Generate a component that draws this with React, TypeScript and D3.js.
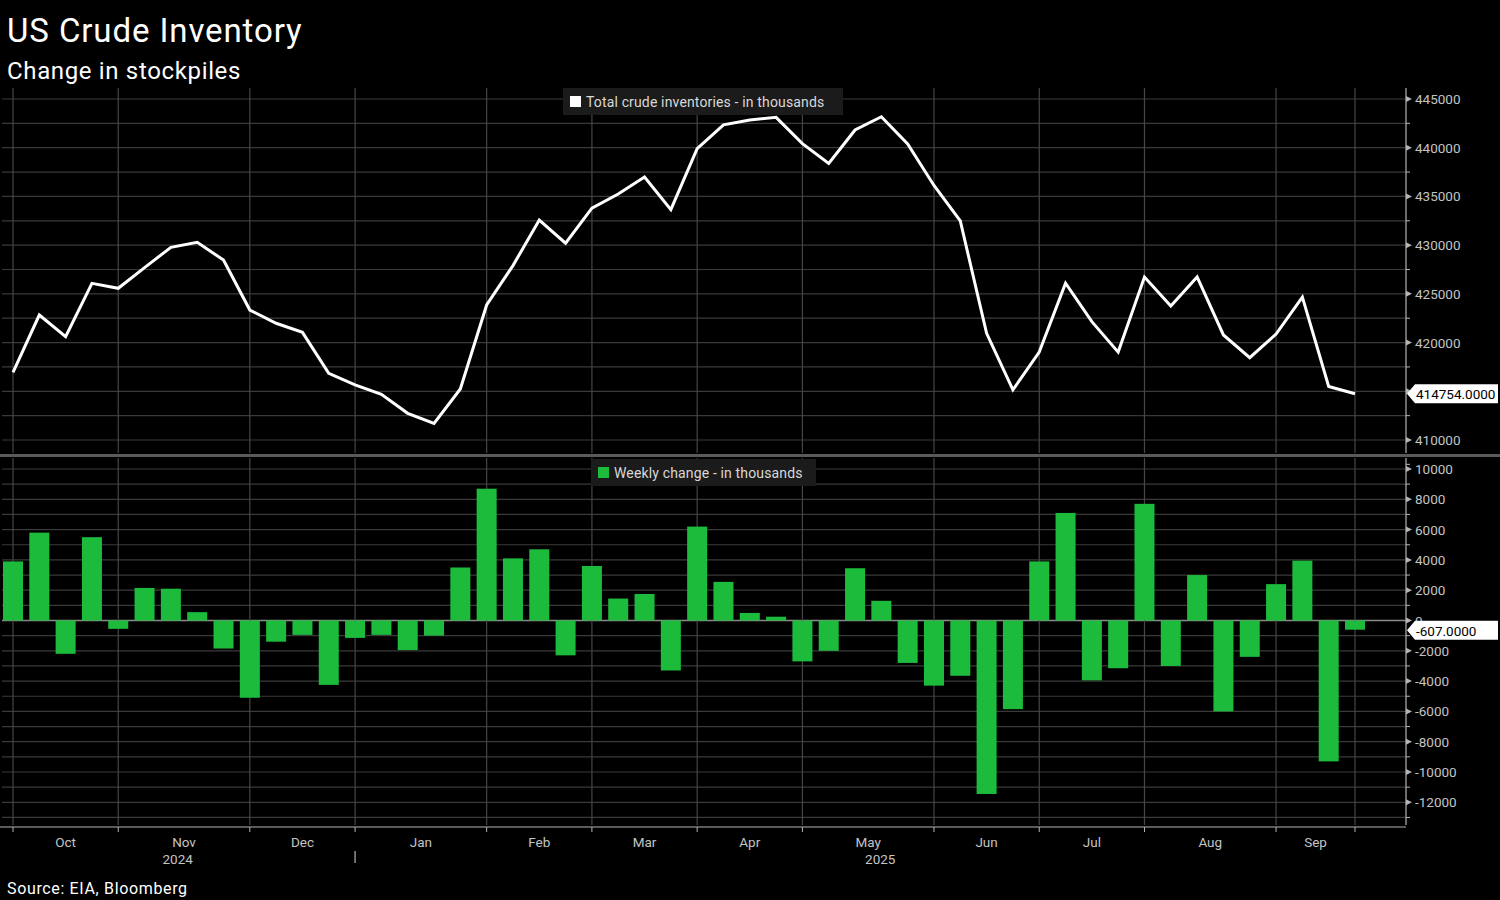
import React, { useEffect, useRef } from 'react';
import * as d3 from 'd3';

// Weekly EIA data, week ending Sep 27 2024 .. Sep 19 2025 (thousands of barrels)
const inventory = [
  416950, 422830, 420600, 426080, 425570, 427690, 429780, 430290, 428470, 423340,
  421980, 421050, 416850, 415650, 414690, 412740, 411710, 415240, 423860, 427900,
  432580, 430200, 433800, 435250, 437000, 433650, 439900, 442350, 442850, 443120,
  440420, 438380, 441820, 443180, 440380, 436120, 432480, 420950, 415150, 419030,
  426100, 422150, 419020, 426730, 423750, 426730, 420780, 418450, 420880, 424660,
  415500, 414754
];

const weeklyChange = [
  3900, 5800, -2200, 5500, -550, 2150, 2100, 550, -1850, -5100,
  -1400, -950, -4250, -1150, -950, -1950, -1000, 3500, 8700, 4100,
  4700, -2300, 3600, 1450, 1750, -3300, 6200, 2550, 500, 250,
  -2700, -2000, 3450, 1300, -2800, -4300, -3650, -11450, -5850, 3900,
  7100, -3950, -3150, 7700, -3000, 3000, -6000, -2400, 2400, 3950,
  -9300, -607
];

// first week index of each month (gridline positions) and labels
const monthStarts = [0, 4, 9, 13, 18, 22, 26, 30, 35, 39, 43, 48, 51];
const monthLabels = ['Oct', 'Nov', 'Dec', 'Jan', 'Feb', 'Mar', 'Apr', 'May', 'Jun', 'Jul', 'Aug', 'Sep'];
const yearLabels = ['2024', '2025'];
const yearWeekPos = [6.26, 32.96];
const topTicks = [410000, 415000, 420000, 425000, 430000, 435000, 440000, 445000];
const bottomTicks = [-12000, -10000, -8000, -6000, -4000, -2000, 0, 2000, 4000, 6000, 8000, 10000];

const W = 1500;
const H = 900;
const FONT = 'Roboto, "Liberation Sans", sans-serif';
const GREEN = '#1cbb3c';
const GRID = '#3a3a3a';
const AXIS = '#b4b4b4';
const LABEL = '#c4c4c4';

const App: React.FC = () => {
  const svgRef = useRef<SVGSVGElement>(null);

  useEffect(() => {
    if (!svgRef.current) return;
    const svg = d3.select(svgRef.current);
    svg.selectAll('*').remove();

    const axisX = 1406;
    const topY0 = 88, topY1 = 453;
    const botY0 = 458, botY1 = 825;

    const x = d3.scaleLinear().domain([0, inventory.length - 1]).range([13, 1355]);
    const yTop = d3.scaleLinear().domain([410000, 445000]).range([440, 99]);
    const yBot = d3.scaleLinear().domain([-12000, 10000]).range([802.3, 469]);

    const lastInv = inventory[inventory.length - 1];
    const lastChg = weeklyChange[weeklyChange.length - 1];

    svg.append('rect').attr('width', W).attr('height', H).attr('fill', '#000');

    // Titles
    svg.append('text').attr('x', 7).attr('y', 42)
      .style('font-family', FONT).style('font-size', '33px').style('fill', '#fff')
      .style('letter-spacing', '0.9px')
      .text('US Crude Inventory');
    svg.append('text').attr('x', 7).attr('y', 79)
      .style('font-family', FONT).style('font-size', '24px').style('fill', '#fff')
      .style('letter-spacing', '0.65px')
      .text('Change in stockpiles');
    svg.append('text').attr('x', 7).attr('y', 894)
      .style('font-family', FONT).style('font-size', '16px').style('fill', '#fff')
      .style('letter-spacing', '0.65px')
      .text('Source: EIA, Bloomberg');

    // Horizontal gridlines - top
    d3.range(410000, 445001, 2500).forEach(v => {
      svg.append('line')
        .attr('x1', 2).attr('x2', axisX)
        .attr('y1', yTop(v)).attr('y2', yTop(v))
        .attr('stroke', GRID).attr('stroke-width', 1.2);
    });
    // Horizontal gridlines - bottom
    d3.range(-13000, 10001, 1000).forEach(v => {
      svg.append('line')
        .attr('x1', 2).attr('x2', axisX)
        .attr('y1', yBot(v)).attr('y2', yBot(v))
        .attr('stroke', v === 0 ? '#8a8a8a' : GRID).attr('stroke-width', v === 0 ? 1.5 : 1.2);
    });

    // Vertical gridlines
    monthStarts.forEach(i => {
      [[topY0, topY1], [botY0, botY1]].forEach(([a, b]) => {
        svg.append('line')
          .attr('x1', x(i)).attr('x2', x(i))
          .attr('y1', a).attr('y2', b)
          .attr('stroke', '#464646').attr('stroke-width', 1.2);
      });
    });

    // Bars
    const bw = 20;
    svg.append('g').selectAll('rect')
      .data(weeklyChange)
      .join('rect')
      .attr('x', (_, i) => x(i) - bw / 2)
      .attr('width', bw)
      .attr('y', d => yBot(Math.max(0, d)))
      .attr('height', d => Math.abs(yBot(d) - yBot(0)))
      .attr('fill', GREEN);

    // Line
    const line = d3.line<number>()
      .x((_, i) => x(i))
      .y(d => yTop(d));
    svg.append('path')
      .datum(inventory)
      .attr('d', line)
      .attr('fill', 'none')
      .attr('stroke', '#fff')
      .attr('stroke-width', 3)
      .attr('stroke-linejoin', 'miter');

    // Separator between panels
    svg.append('rect').attr('x', 0).attr('y', 454).attr('width', W).attr('height', 3)
      .attr('fill', '#5a5a5a');

    // Right axis
    [[topY0, topY1], [botY0, botY1]].forEach(([a, b]) => {
      svg.append('line').attr('x1', axisX).attr('x2', axisX).attr('y1', a).attr('y2', b)
        .attr('stroke', AXIS).attr('stroke-width', 1.2);
    });

    const drawTicks = (scale: d3.ScaleLinear<number, number>, majors: number[], minorStep: number, lo: number, hi: number, hidden: (v: number) => boolean) => {
      d3.range(lo, hi + 1, minorStep).forEach(v => {
        if (majors.includes(v)) return;
        svg.append('line').attr('x1', axisX).attr('x2', axisX + 4)
          .attr('y1', scale(v)).attr('y2', scale(v))
          .attr('stroke', AXIS).attr('stroke-width', 1);
      });
      majors.forEach(v => {
        const yy = scale(v);
        svg.append('path')
          .attr('d', `M${axisX},${yy - 3}L${axisX + 6},${yy}L${axisX},${yy + 3}Z`)
          .attr('fill', AXIS);
        if (hidden(v)) return;
        svg.append('text').attr('x', axisX + 9).attr('y', yy)
          .attr('dominant-baseline', 'central')
          .style('font-family', FONT).style('font-size', '13.5px').style('fill', LABEL)
          .text(String(v));
      });
    };
    // labels hidden behind the last-value tags
    drawTicks(yTop, topTicks, 2500, 407500, 445000, v => Math.abs(yTop(v) - yTop(lastInv)) < 14);
    drawTicks(yBot, bottomTicks, 1000, -13000, 10000, () => false);

    // Last value tags
    const tag = (yy: number, label: string) => {
      svg.append('path')
        .attr('d', `M${axisX + 1},${yy}L${axisX + 9},${yy - 9.5}L${W - 2},${yy - 9.5}L${W - 2},${yy + 9.5}L${axisX + 9},${yy + 9.5}Z`)
        .attr('fill', '#fff');
      svg.append('text').attr('x', axisX + 10).attr('y', yy + 0.5)
        .attr('dominant-baseline', 'central')
        .style('font-family', FONT).style('font-size', '13.5px').style('fill', '#000')
        .text(label);
    };
    tag(yTop(lastInv), '414754.0000');
    tag(yBot(lastChg) + 0.5, '-607.0000');

    // Bottom x axis
    svg.append('line').attr('x1', 0).attr('x2', axisX).attr('y1', 827).attr('y2', 827)
      .attr('stroke', AXIS).attr('stroke-width', 1.2);
    monthStarts.forEach(i => {
      svg.append('line').attr('x1', x(i)).attr('x2', x(i)).attr('y1', 827).attr('y2', 832)
        .attr('stroke', AXIS).attr('stroke-width', 1);
    });
    monthLabels.forEach((m, k) => {
      const cx = (x(monthStarts[k]) + x(monthStarts[k + 1])) / 2;
      svg.append('text').attr('x', cx).attr('y', 842)
        .attr('text-anchor', 'middle').attr('dominant-baseline', 'central')
        .style('font-family', FONT).style('font-size', '13.5px').style('fill', LABEL)
        .text(m);
    });
    yearLabels.forEach((yl, k) => {
      svg.append('text').attr('x', x(yearWeekPos[k])).attr('y', 859)
        .attr('text-anchor', 'middle').attr('dominant-baseline', 'central')
        .style('font-family', FONT).style('font-size', '13.5px').style('fill', LABEL)
        .text(yl);
    });
    svg.append('line').attr('x1', x(13)).attr('x2', x(13)).attr('y1', 851).attr('y2', 863)
      .attr('stroke', AXIS).attr('stroke-width', 1.2);

    // Legends
    const legend = (lx: number, ly: number, w: number, color: string, label: string) => {
      svg.append('rect').attr('x', lx).attr('y', ly).attr('width', w).attr('height', 27)
        .attr('fill', '#1b1b1b');
      svg.append('rect').attr('x', lx + 7).attr('y', ly + 8).attr('width', 11).attr('height', 11)
        .attr('fill', color);
      svg.append('text').attr('x', lx + 23).attr('y', ly + 13.5)
        .attr('dominant-baseline', 'central')
        .style('font-family', FONT).style('font-size', '14px').style('fill', '#d8d8d8')
        .style('letter-spacing', '0.15px')
        .text(label);
    };
    legend(563, 88, 280, '#fff', 'Total crude inventories - in thousands');
    legend(591, 459, 225, GREEN, 'Weekly change - in thousands');
  }, []);

  return (
    <svg ref={svgRef} width={W} height={H} style={{ display: 'block', position: 'absolute', left: 0, top: 0 }} />
  );
};

export default App;
